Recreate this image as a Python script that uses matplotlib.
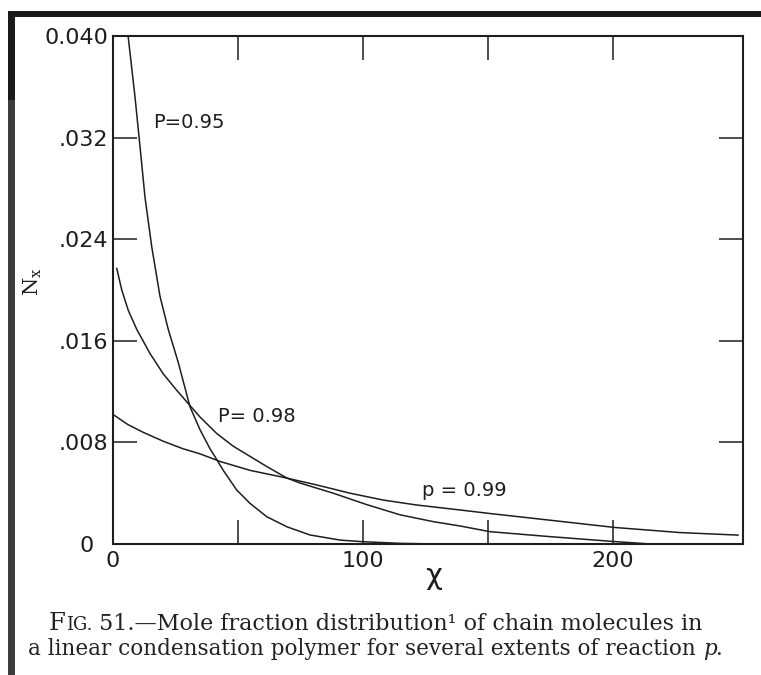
import matplotlib
matplotlib.use("Agg")
import matplotlib.pyplot as plt
from matplotlib.patches import Rectangle

plt.rcParams["mathtext.fontset"] = "dejavuserif"

# values (chain length x, mole fraction N_x)
x_095 = [6.1, 8.8, 10.8, 12.8, 15.5, 18.8, 22.1, 26.1, 30.8, 34.8, 38.8,
         40.1, 44.1, 49.5, 54.8, 61.5, 69.5, 78.8, 90.8, 100, 115, 130]
n_095 = [0.0399, 0.0352, 0.0313, 0.0273, 0.0234, 0.0195, 0.0169, 0.0143,
         0.0108, 0.0090, 0.0075, 0.0071, 0.0058, 0.00425, 0.0032, 0.00215,
         0.00136, 0.00071, 0.00031, 0.00018, 0.00005, 0.0]

x_098 = [1.5, 3.5, 6.1, 9.5, 14.8, 20.1, 25.5, 30.8, 34.8, 41.5, 48.1,
         54.8, 61.5, 69.5, 74.8, 88.1, 101.5, 114.8, 128.1, 138.8, 150.8,
         173.5, 200, 215, 250]
n_098 = [0.0217, 0.0200, 0.0184, 0.0169, 0.0150, 0.0134, 0.0121, 0.0109,
         0.0100, 0.0087, 0.0077, 0.0069, 0.0061, 0.0052, 0.0048, 0.0040,
         0.0031, 0.0023, 0.00176, 0.00142, 0.00097, 0.0006, 0.0002, 0.0, 0.0]

x_099 = [0, 6, 12, 20, 28, 34.8, 42.8, 54.8, 68.1, 81.5, 94.8, 108.1,
         121.5, 138.8, 150.8, 173.6, 200.8, 226.8, 250]
n_099 = [0.0102, 0.0094, 0.0088, 0.0081, 0.0075, 0.0071, 0.0065, 0.0058,
         0.00525, 0.00465, 0.0040, 0.00346, 0.00307, 0.00268, 0.0024,
         0.0019, 0.0013, 0.0009, 0.0007]

y_ticks = [0, 0.008, 0.016, 0.024, 0.032, 0.040]
y_labels = ["0  ", ".008", ".016", ".024", ".032", "0.040"]
x_ticks = [0, 50, 100, 150, 200]
x_labels = ["0", "", "100", "", "200"]

W, H = 761, 675
ink = "#1e1e1e"

fig = plt.figure(figsize=(W / 100, H / 100), dpi=100)
fig.patch.set_facecolor("white")

# dark scan edges along the top and left
fig.add_artist(Rectangle((8 / W, 1 - 17 / H), 1 - 8 / W, 6 / H,
                         transform=fig.transFigure, color="#1a1a1a", lw=0))
fig.add_artist(Rectangle((8 / W, 1 - 100 / H), 7 / W, 89 / H,
                         transform=fig.transFigure, color="#1a1a1a", lw=0))
fig.add_artist(Rectangle((8 / W, 0), 7 / W, 1 - 100 / H,
                         transform=fig.transFigure, color="#3c3c3c", lw=0))

ax = fig.add_axes([113 / W, 1 - 544 / H, 630 / W, 508 / H])
ax.plot(x_095, n_095, color=ink, lw=1.1)
ax.plot(x_098, n_098, color=ink, lw=1.1)
ax.plot(x_099, n_099, color=ink, lw=1.1)

ax.set_xlim(0, 252)
ax.set_ylim(0, 0.040)
ax.set_xticks(x_ticks)
ax.set_xticklabels(x_labels)
ax.set_yticks(y_ticks)
ax.set_yticklabels(y_labels)
ax.tick_params(direction="in", length=17, width=1.1, color=ink,
               top=True, right=True, labelsize=16, labelcolor=ink)
ax.tick_params(axis="y", pad=3.5)
ax.tick_params(axis="x", pad=5)
for s in ax.spines.values():
    s.set_linewidth(1.5)
    s.set_color(ink)

# curve labels
ax.text(16, 0.0332, "P=0.95", fontsize=14, color=ink, va="center")
ax.text(42, 0.0100, "P= 0.98", fontsize=14, color=ink, va="center")
ax.text(123.6, 0.0042, "p = 0.99", fontsize=14, color=ink, va="center")

# axis titles
fig.text(33 / W, 1 - 282 / H, "N$_\\mathrm{x}$", rotation=90, fontsize=15,
         family="DejaVu Serif", color=ink, ha="center", va="center")
fig.text(434 / W, 1 - 576 / H, "χ", fontsize=21, color=ink,
         ha="center", va="center")

# caption, small caps for "Fig." and italic p
cap = dict(family="DejaVu Serif", color="#222222", va="baseline",
           annotation_clip=False)
base1, base2 = H - 630, H - 655
t = ax.annotate("F", xy=(49, base1), xycoords="figure pixels",
                fontsize=17.5, **cap)
t = ax.annotate("IG.", xy=(1, base1), xycoords=(t, "figure pixels"),
                fontsize=13, **cap)
ax.annotate(" 51.\u2014Mole fraction distribution\u00b9 of chain molecules in",
            xy=(1, base1), xycoords=(t, "figure pixels"), fontsize=16,
            **cap)
t = ax.annotate("a linear condensation polymer for several extents of reaction ",
                xy=(28, base2), xycoords="figure pixels", fontsize=15.5, **cap)
t = ax.annotate("p", xy=(1, base2), xycoords=(t, "figure pixels"),
                fontsize=15.5, style="italic", **cap)
ax.annotate(".", xy=(1, base2), xycoords=(t, "figure pixels"), fontsize=15.5,
            **cap)

fig.savefig("out.png", dpi=100)
